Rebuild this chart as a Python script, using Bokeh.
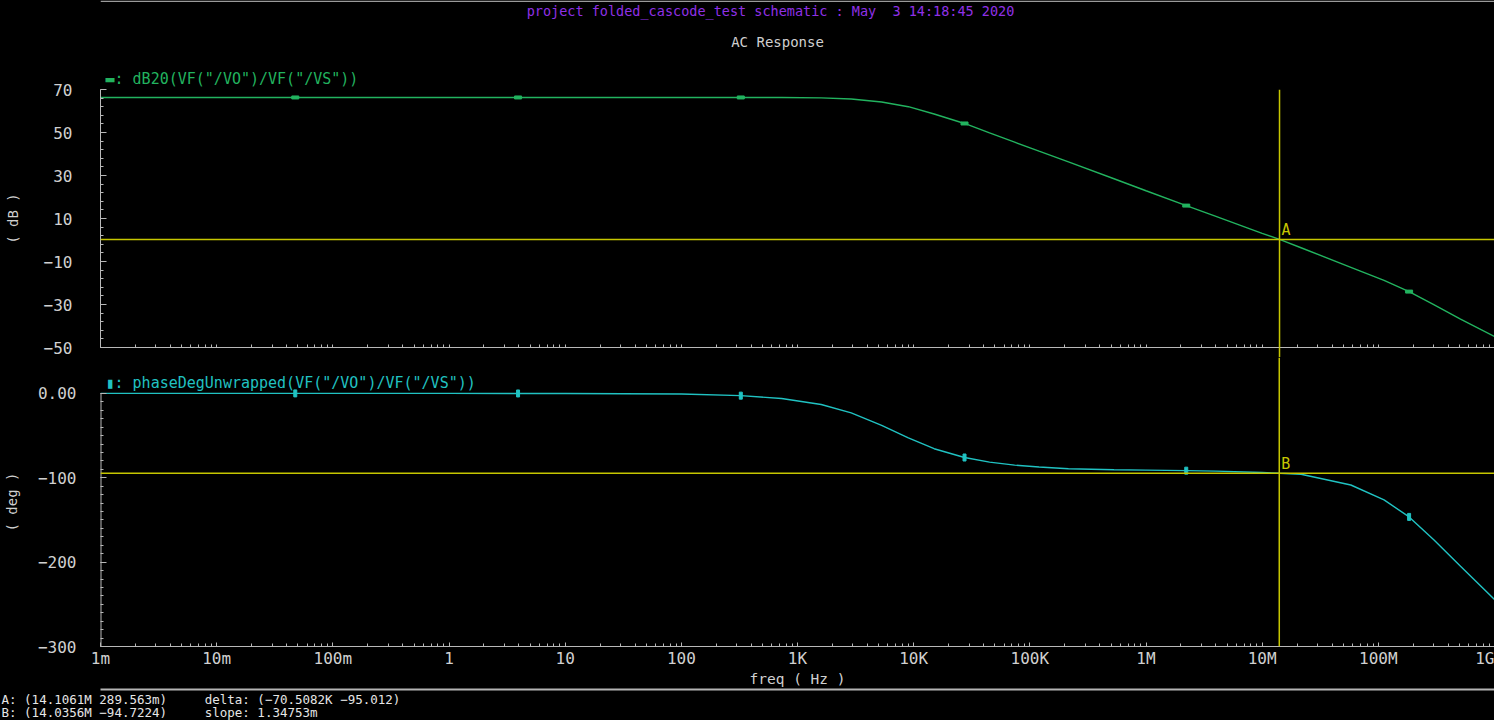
from bokeh.plotting import figure
from bokeh.layouts import column
from bokeh.models import Range1d, FixedTicker, Span, Label, ColumnDataSource, Title, LogAxis
from bokeh.core.properties import value
from bokeh.embed import file_html
from bokeh.resources import INLINE

# ------------------------------------------------------------------ data
freq_hz = [1e-3, 1e-2, 0.0475, 0.1, 1.0, 3.93, 10.0, 100.0, 325.0, 730.0,
           1.6e3, 2.9e3, 5.3e3, 9.0e3, 1.5e4, 2.74e4, 4.5e4, 7.4e4, 1.2e5, 2.15e5,
           5.3e5, 1.0e6, 2.22e6, 4.0e6, 1.0e7, 1.41e7, 2.16e7, 5.8e7, 1.12e8, 1.84e8,
           3.0e8, 5.1e8, 1.0e9]
gain_db = [66.3, 66.3, 66.3, 66.3, 66.3, 66.3, 66.3, 66.3, 66.3, 66.25,
           66.1, 65.6, 64.2, 62.0, 58.6, 54.2, 49.8, 45.5, 41.3, 36.3,
           28.5, 22.9, 16.0, 11.0, 3.1, 0.29, -3.6, -12.7, -18.8, -24.0,
           -30.1, -36.8, -44.9]
phase_deg = [0.0, 0.0, 0.0, 0.0, 0.0, -0.1, -0.1, -0.8, -2.7, -6.1,
             -13.2, -23.1, -37.9, -52.8, -65.6, -76.0, -81.5, -85.0, -87.3, -89.4,
             -90.6, -91.0, -91.6, -92.2, -93.8, -94.72, -95.8, -108.6, -126.3, -146.4,
             -173.6, -205.0, -244.4]
marker_idx = [2, 5, 8, 15, 22, 29]

cursor_a = (14.1061e6, 0.289563)
cursor_b = (14.0356e6, -94.7224)

freq_ticks = [1e-3, 1e-2, 1e-1, 1.0, 10.0, 100.0, 1e3, 1e4, 1e5, 1e6, 1e7, 1e8, 1e9]
freq_tick_labels = ["1m", "10m", "100m", "1", "10", "100", "1K", "10K", "100K",
                    "1M", "10M", "100M", "1G"]
db_ticks = [-50, -30, -10, 10, 30, 50, 70]
db_tick_labels = ["\u221250", "\u221230", "\u221210", "10", "30", "50", "70"]
phase_ticks = [-300, -200, -100, 0]
phase_tick_labels = ["\u2212300", "\u2212200", "\u2212100", "0.00"]

title_text = "project folded_cascode_test schematic : May\u00a0 3 14:18:45 2020"
subtitle_text = "AC Response"
gain_legend = '\u25ac: dB20(VF("/VO")/VF("/VS"))'
phase_legend = '\u25ae: phaseDegUnwrapped(VF("/VO")/VF("/VS"))'
readout_a = "A: (14.1061M 289.563m)"
readout_b = "B: (14.0356M \u221294.7224)"
readout_delta = "delta: (\u221270.5082K \u221295.012)"
readout_slope = "slope: 1.34753m"

# ------------------------------------------------------------------ style / geometry
FONT = "DejaVu Sans Mono"
BG = "#000000"
GREEN = "#22b35f"
CYAN = "#20c2c2"
YELLOW = "#c6c600"
PURPLE = "#9030e6"
GREY = "#d0d0d0"
AXIS = "#b8b8b8"

W = 1494
FRAME_L = 98
PX_PER_DEC = (W - FRAME_L) / 12.0
P1_TOP = 58                        # page y where the gain figure starts
P2_TOP = 357                       # page y where the phase figure (and its frame) starts
PH_PER_PX = 300.0 / 254.0          # phase degrees per pixel (0 at y=393, -300 at y=647)
PH_TOP = (393 - P2_TOP) * PH_PER_PX


def fx(page_x):
    return 10 ** (-3 + (page_x - FRAME_L) / PX_PER_DEC)


def fy_bot(page_y):
    return -(page_y - 393) * PH_PER_PX


freq_minor = [m * 10.0 ** k for k in range(-3, 9) for m in range(2, 10)]
db_minor = list(range(-50, 71, 4))
phase_minor = list(range(-300, 1, 10))


def style_yaxis(ax, ticks, labels, minor, label, standoff, label_standoff):
    ax.ticker = FixedTicker(ticks=ticks, minor_ticks=minor)
    ax.major_label_overrides = dict(zip(ticks, labels))
    ax.axis_line_color = AXIS
    ax.major_tick_line_color = AXIS
    ax.minor_tick_line_color = AXIS
    ax.major_tick_out = 0
    ax.minor_tick_out = 0
    ax.major_tick_in = 6
    ax.minor_tick_in = 3
    ax.major_label_text_font = FONT
    ax.major_label_text_font_size = "16px"
    ax.major_label_text_color = GREY
    ax.major_label_standoff = standoff
    ax.axis_label = label
    ax.axis_label_text_font = FONT
    ax.axis_label_text_font_size = "14px"
    ax.axis_label_text_font_style = "normal"
    ax.axis_label_text_color = GREY
    ax.axis_label_standoff = label_standoff


src = ColumnDataSource(dict(f=freq_hz, g=gain_db, ph=phase_deg))
msrc = ColumnDataSource(dict(f=[freq_hz[i] for i in marker_idx],
                             g=[gain_db[i] for i in marker_idx],
                             ph=[phase_deg[i] for i in marker_idx]))

# ------------------------------------------------------------------ header strip
p0 = figure(width=W, height=P1_TOP, x_range=Range1d(FRAME_L, W), y_range=Range1d(P1_TOP, 0),
            output_backend="svg", toolbar_location=None,
            x_axis_location=None, y_axis_location=None,
            min_border_left=FRAME_L, min_border_right=0, min_border_top=0, min_border_bottom=0,
            background_fill_color=BG, border_fill_color=BG, outline_line_color=None)
p0.grid.visible = False
p0.segment(x0=[FRAME_L], y0=[0.75], x1=[W], y1=[0.75], line_color="#9a9a9a", line_width=1.5)
hsrc = ColumnDataSource(dict(x=[769, 776], y=[10, 41], t=[title_text, subtitle_text],
                             c=[PURPLE, GREY], s=["13.5px", "14px"]))
p0.text("x", "y", text="t", source=hsrc, text_font=value(FONT), text_font_size="s",
        text_color="c", text_align="center", text_baseline="middle")

# ------------------------------------------------------------------ top plot (gain)
p1 = figure(width=W, height=P2_TOP - P1_TOP, x_axis_type="log",
            x_range=Range1d(1e-3, 1e9), y_range=Range1d(-50, 70),
            output_backend="svg", toolbar_location=None,
            min_border_left=FRAME_L, min_border_right=0,
            min_border_top=89 - P1_TOP, min_border_bottom=P2_TOP - 347,
            background_fill_color=BG, border_fill_color=BG, outline_line_color=None)
p1.grid.visible = False
p1.title.text = gain_legend
p1.title.align = "left"
p1.title.offset = 5
p1.title.standoff = 4
p1.title.text_font = FONT
p1.title.text_font_size = "15px"
p1.title.text_font_style = "normal"
p1.title.text_color = GREEN

# frequency axis of the gain plot: grey ticks only; its single "major" tick is the
# cursor, drawn outwards in yellow so the cursor line continues into the gap
xa1 = p1.xaxis[0]
xa1.ticker = FixedTicker(ticks=[cursor_a[0]], minor_ticks=freq_ticks + freq_minor)
xa1.axis_line_color = AXIS
xa1.major_tick_line_color = YELLOW
xa1.major_tick_line_width = 1.5
xa1.major_tick_in = 0
xa1.major_tick_out = P2_TOP - 347
xa1.minor_tick_line_color = AXIS
xa1.minor_tick_in = 3
xa1.minor_tick_out = 0
xa1.major_label_text_color = None
xa1.major_label_standoff = 0
style_yaxis(p1.yaxis[0], db_ticks, db_tick_labels, db_minor, "( dB )", 28, 20)

p1.add_layout(Span(location=cursor_a[1], dimension="width", line_color=YELLOW, line_width=1.5))
p1.add_layout(Span(location=cursor_a[0], dimension="height", line_color=YELLOW, line_width=1.5))
p1.line("f", "g", source=src, line_color=GREEN, line_width=1.4)
p1.rect("f", "g", source=msrc, width=7, height=3, width_units="screen",
        height_units="screen", fill_color=GREEN, line_color=GREEN)
p1.add_layout(Label(x=cursor_a[0], y=cursor_a[1], text="A", x_offset=2,
                    text_align="left", text_baseline="bottom", text_font=FONT,
                    text_font_size="15px", text_color=YELLOW))

# ------------------------------------------------------------------ bottom plot (phase)
p2 = figure(width=W, height=720 - P2_TOP, x_axis_type="log",
            x_range=p1.x_range, y_range=Range1d(-300, PH_TOP),
            output_backend="svg", toolbar_location=None,
            min_border_left=FRAME_L, min_border_right=0,
            min_border_top=0, min_border_bottom=720 - 647,
            background_fill_color=BG, border_fill_color=BG, outline_line_color=None)
p2.grid.visible = False

xa2 = p2.xaxis[0]
xa2.ticker = FixedTicker(ticks=freq_ticks, minor_ticks=freq_minor)
xa2.major_label_overrides = dict(zip(freq_ticks, freq_tick_labels))
xa2.axis_line_color = AXIS
xa2.major_tick_line_color = AXIS
xa2.minor_tick_line_color = AXIS
xa2.major_tick_out = 0
xa2.minor_tick_out = 0
xa2.major_tick_in = 4
xa2.minor_tick_in = 3
xa2.major_label_text_font = FONT
xa2.major_label_text_font_size = "16px"
xa2.major_label_text_color = GREY
xa2.major_label_standoff = 2
xa2.axis_label = "freq ( Hz )"
xa2.axis_label_text_font = FONT
xa2.axis_label_text_font_size = "14.5px"
xa2.axis_label_text_font_style = "normal"
xa2.axis_label_text_color = GREY
xa2.axis_label_standoff = 0

ya2 = p2.yaxis[0]
style_yaxis(ya2, phase_ticks, phase_tick_labels, phase_minor, "( deg )", 24, 15)
ya2.axis_line_color = None
# axis spine only over the plotted phase span (frame extends above it for the cursor)
p2.segment(x0=[freq_ticks[0]], y0=[phase_ticks[0]], x1=[freq_ticks[0]], y1=[phase_ticks[-1]],
           line_color=AXIS, line_width=2)

p2.add_layout(Span(location=cursor_b[1], dimension="width", line_color=YELLOW, line_width=1.5))
p2.add_layout(Span(location=cursor_b[0], dimension="height", line_color=YELLOW, line_width=1.5))
p2.line("f", "ph", source=src, line_color=CYAN, line_width=1.4)
p2.rect("f", "ph", source=msrc, width=3, height=7, width_units="screen",
        height_units="screen", fill_color=CYAN, line_color=CYAN)
p2.add_layout(Label(x=fx(103), y=fy_bot(383), text=phase_legend, text_align="left",
                    text_baseline="middle", text_font=FONT, text_font_size="15px",
                    text_color=CYAN))
p2.add_layout(Label(x=cursor_b[0], y=cursor_b[1], text="B", x_offset=2,
                    text_align="left", text_baseline="bottom", text_font=FONT,
                    text_font_size="15px", text_color=YELLOW))

# cursor read-out below the frequency axis: separator rule + two text lines
sep = LogAxis(ticker=FixedTicker(ticks=[], minor_ticks=[]), axis_line_color="#b4b4b4",
              axis_line_width=2, major_tick_in=0, major_tick_out=0,
              minor_tick_in=0, minor_tick_out=0, major_label_text_color=None)
p2.add_layout(sep, "below")
GAP = "\u00a0" * 5
readout_text = (readout_a + GAP + readout_delta + "\n" +
                readout_b + GAP + readout_slope)
p2.add_layout(Title(text=readout_text, align="left", offset=-(FRAME_L + 1), standoff=1,
                    text_font=FONT, text_font_size="12.5px", text_font_style="normal",
                    text_line_height=0.88, text_color="#e6e6e6"), "below")

layout = column(p0, p1, p2)

html = file_html(layout, INLINE, title="AC Response")
html = html.replace("</head>", "<style>html,body{background:#000000;}</style></head>", 1)
open("out.html", "w").write(html)
